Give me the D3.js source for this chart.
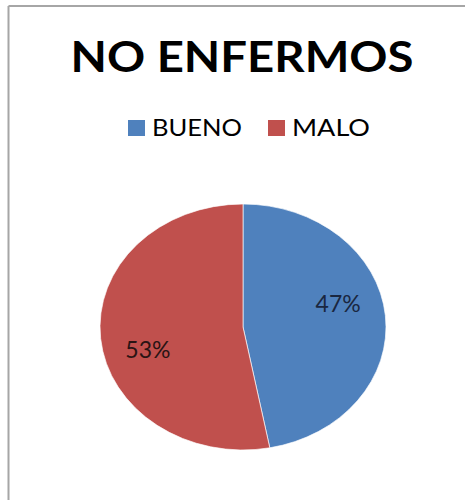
<!DOCTYPE html>
<html><head><meta charset="utf-8">
<script src="https://cdn.jsdelivr.net/npm/d3@7"></script>
<style>body{margin:0;background:#fff}svg{display:block}</style>
</head><body>
<script>
const title = "NO ENFERMOS";
const categories = ["BUENO", "MALO"];
const values = [47, 53];
const labels = ["47%", "53%"];
const colors = ["#4F81BD", "#C0504D"];

const W = 465, H = 500;
const svg = d3.select("body").append("svg").attr("width", W).attr("height", H);
svg.append("rect").attr("width", W).attr("height", H).attr("fill", "#fff");

// frame (top and left edges visible)
svg.append("line").attr("x1", 8.5).attr("y1", 6).attr("x2", W).attr("y2", 6).attr("stroke", "#a6a6a6").attr("stroke-width", 2);
svg.append("line").attr("x1", 8.5).attr("y1", 6).attr("x2", 8.5).attr("y2", H).attr("stroke", "#a6a6a6").attr("stroke-width", 2);

svg.append("text").attr("x", 242).attr("y", 72).attr("text-anchor", "middle")
  .attr("font-family", "Lato, 'Open Sans', sans-serif").attr("font-weight", "bold")
  .attr("font-size", 42).attr("textLength", 343).attr("lengthAdjust", "spacingAndGlyphs")
  .attr("fill", "#000").text(title);

// legend
const color = d3.scaleOrdinal().domain(categories).range(colors);
const legX = [128, 268];
const legW = [90, 78];
const leg = svg.append("g");
categories.forEach((c, i) => {
  leg.append("rect").attr("x", legX[i]).attr("y", 120).attr("width", 17).attr("height", 16).attr("fill", color(c));
  leg.append("text").attr("x", legX[i] + 24).attr("y", 136)
    .attr("font-family", "Lato, 'Open Sans', sans-serif").attr("font-size", 24)
    .attr("textLength", legW[i]).attr("lengthAdjust", "spacingAndGlyphs")
    .attr("fill", "#000").text(c);
});

// elliptical pie
const cx = 243, cy = 327, rx = 143, ry = 123;
const pie = d3.pie().sort(null).value(d => d)(values);
const arc = d3.arc().innerRadius(0).outerRadius(ry);
const g = svg.append("g").attr("transform", `translate(${cx},${cy}) scale(${rx / ry},1)`);
g.selectAll("path").data(pie).join("path")
  .attr("d", arc).attr("fill", (d, i) => color(categories[i]))
  .attr("stroke", "#fff").attr("stroke-width", 0.6);

const shift = -10 * Math.PI / 180;
const labelArc = d3.arc().innerRadius(ry * 0.69).outerRadius(ry * 0.69);
svg.append("g").selectAll("text").data(pie).join("text")
  .each(function (d) {
    const c = labelArc.centroid({ startAngle: d.startAngle + shift, endAngle: d.endAngle + shift });
    d3.select(this).attr("x", cx + c[0] * rx / ry).attr("y", cy + c[1] + 8);
  })
  .attr("text-anchor", "middle")
  .attr("font-family", "Lato, 'Open Sans', sans-serif").attr("font-size", 23)
  .attr("fill", (d, i) => i === 0 ? "#1a2740" : "#2a1414")
  .text((d, i) => labels[i]);
</script>
</body></html>
